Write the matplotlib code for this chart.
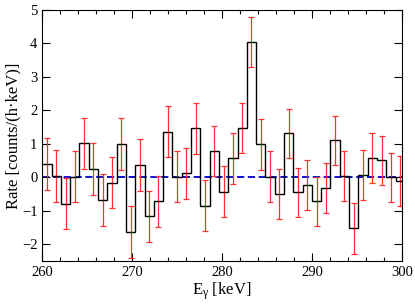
import matplotlib.pyplot as plt
import numpy as np

plt.rcParams['font.family'] = ['Liberation Serif', 'DejaVu Serif']
plt.rcParams['mathtext.fontset'] = 'custom'
plt.rcParams['mathtext.rm'] = 'Liberation Serif'
plt.rcParams['mathtext.it'] = 'Liberation Serif'

# Histogram binning (keV)
e_start = 260.0
bin_width = 1.0346

# Rate per bin [counts/(h keV)]
rate = [0.39, 0.04, -0.79, 0.02, 1.01, 0.24, -0.68, -0.16, 0.99, -1.64,
        0.37, -1.17, -0.72, 1.36, 0.02, 0.12, 1.46, -0.85, 0.79, -0.43,
        0.56, 1.47, 4.04, 0.99, 0.02, -0.50, 1.31, -0.45, -0.24, -0.72,
        -0.33, 1.10, 0.03, -1.53, 0.06, 0.58, 0.50, 0.00, -0.11]
err = [0.78, 0.78, 0.76, 0.77, 0.77, 0.77, 0.77, 0.77, 0.77, 0.77,
       0.77, 0.76, 0.76, 0.76, 0.76, 0.76, 0.76, 0.76, 0.75, 0.76,
       0.76, 0.75, 0.75, 0.76, 0.75, 0.75, 0.74, 0.74, 0.74, 0.74,
       0.74, 0.74, 0.74, 0.75, 0.74, 0.74, 0.73, 0.73, 0.74]

edges = e_start + bin_width * np.arange(len(rate) + 1)
centers = 0.5 * (edges[:-1] + edges[1:])

fig = plt.figure(figsize=(4.15, 3.07), dpi=100)
ax = fig.add_axes([42.3 / 415, 1 - 261 / 307, (401.7 - 42.3) / 415, (261 - 9.7) / 307])

ax.axhline(0, color='#0000cc', linestyle=(0, (4, 2)), linewidth=1.3, zorder=1)
ax.errorbar(centers, rate, yerr=err, fmt='none', ecolor='#ff3030',
            elinewidth=0.9, capsize=2.3, capthick=0.9, zorder=2)
ax.stairs(rate, edges, color='black', linewidth=1.0, baseline=None, zorder=3)

ax.set_xlim(260, 300)
ax.set_ylim(-2.5, 5)
ax.set_xticks(np.arange(260, 301, 10))
ax.set_xticks(np.arange(260, 301, 2), minor=True)
ax.set_yticks(np.arange(-2, 6, 1))
ax.tick_params(direction='in', top=True, right=True, labelsize=10.5, length=6, width=0.8)
ax.tick_params(which='minor', direction='in', top=True, length=3, width=0.8)

ax.set_xlabel(r'E$_{\mathregular{\gamma}}$ [keV]', fontsize=12, labelpad=1)
ax.set_ylabel('Rate [counts/(h\u00b7keV)]', fontsize=12, labelpad=0.5)

fig.savefig('out.png', dpi=100)
